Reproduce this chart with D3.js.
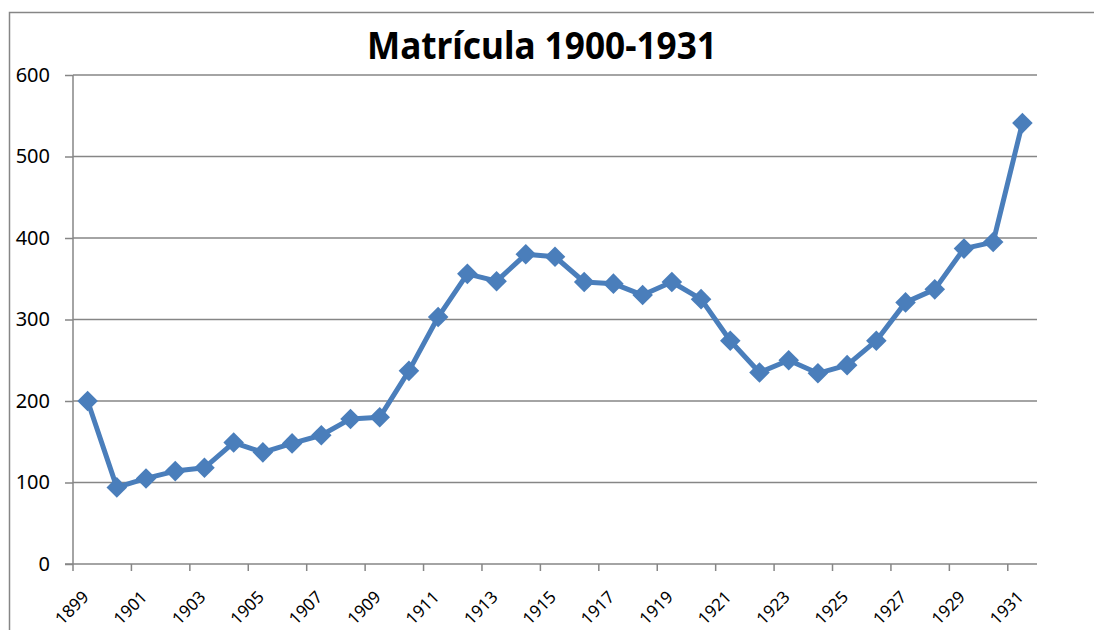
<!DOCTYPE html>
<html>
<head>
<meta charset="utf-8">
<script src="https://cdnjs.cloudflare.com/ajax/libs/d3/7.8.5/d3.min.js"></script>
<style>
  body { margin: 0; background: #fff; }
  svg text { font-family: "Noto Sans", "DejaVu Sans", sans-serif; fill: #000; }
</style>
</head>
<body>
<svg width="1094" height="630"></svg>
<script>
var title = "Matrícula 1900-1931";

var years = [1899, 1900, 1901, 1902, 1903, 1904, 1905, 1906, 1907, 1908, 1909,
  1910, 1911, 1912, 1913, 1914, 1915, 1916, 1917, 1918, 1919, 1920,
  1921, 1922, 1923, 1924, 1925, 1926, 1927, 1928, 1929, 1930, 1931];

var matricula = [200, 94, 105, 114, 118, 149, 137, 148, 158, 178, 180,
  237, 303, 356, 347, 380, 377, 346, 344, 330, 346, 325,
  274, 235, 250, 234, 244, 274, 321, 337, 387, 395, 541];

var yTicks = [0, 100, 200, 300, 400, 500, 600];

var svg = d3.select("svg"),
  margin = {top: 75, right: 57, bottom: 66, left: 73},
  width = svg.attr("width") - margin.left - margin.right,
  height = svg.attr("height") - margin.top - margin.bottom;

var gray = "#868686", blue = "#4a7ebb";

// outer chart frame (right and bottom edges fall outside the picture)
svg.append("rect")
  .attr("x", 9.5).attr("y", 12.5)
  .attr("width", 1200).attr("height", 700)
  .attr("fill", "none").attr("stroke", gray).attr("stroke-width", 1.5);

svg.append("text")
  .attr("x", 542).attr("y", 59)
  .attr("text-anchor", "middle")
  .attr("textLength", 350)
  .attr("lengthAdjust", "spacingAndGlyphs")
  .style("font-size", "38px").style("font-weight", "bold")
  .text(title);

var x = d3.scaleBand().domain(years).range([0, width]).padding(0),
  y = d3.scaleLinear().domain([0, 600]).range([height, 0]);

var g = svg.append("g")
  .attr("transform", "translate(" + margin.left + "," + margin.top + ")");

// gridlines
g.append("g").selectAll("line")
  .data(yTicks.filter(function(d) { return d > 0; }))
  .enter().append("line")
  .attr("x1", 0).attr("x2", width)
  .attr("y1", function(d) { return y(d); })
  .attr("y2", function(d) { return y(d); })
  .attr("stroke", gray).attr("stroke-width", 1.5);

// y axis
var yAxis = g.append("g")
  .call(d3.axisLeft(y).tickValues(yTicks).tickSize(8).tickPadding(15));
yAxis.selectAll("path, line").attr("stroke", gray).attr("stroke-width", 1.5);
yAxis.select(".domain").attr("d", "M0," + height + "V0");
yAxis.selectAll("text")
  .attr("font-family", null).attr("font-size", null)
  .style("font-size", "20px");

// x axis: ticks on category boundaries every second category
var xAxis = g.append("g").attr("transform", "translate(0," + height + ")");
xAxis.append("line")
  .attr("x1", -8).attr("x2", width)
  .attr("stroke", gray).attr("stroke-width", 1.5);
xAxis.selectAll(".tk")
  .data(years.filter(function(d, i) { return i % 2 == 0; }))
  .enter().append("line")
  .attr("class", "tk")
  .attr("x1", function(d) { return x(d); })
  .attr("x2", function(d) { return x(d); })
  .attr("y1", 0).attr("y2", 7)
  .attr("stroke", gray).attr("stroke-width", 1.5);
xAxis.selectAll(".lbl")
  .data(years.filter(function(d, i) { return i % 2 == 0; }))
  .enter().append("text")
  .attr("class", "lbl")
  .attr("text-anchor", "end")
  .attr("transform", function(d) {
    return "translate(" + (x(d) + x.bandwidth() / 2 - 2) + ",30) rotate(-45)";
  })
  .attr("dy", "0.35em")
  .style("font-size", "17px")
  .text(function(d) { return d; });

var pts = years.map(function(d, i) { return {year: d, value: matricula[i]}; });

var line = d3.line()
  .x(function(d) { return x(d.year) + x.bandwidth() / 2; })
  .y(function(d) { return y(d.value); });

g.append("path")
  .datum(pts)
  .attr("fill", "none")
  .attr("stroke", blue)
  .attr("stroke-width", 5)
  .attr("stroke-linejoin", "round")
  .attr("d", line);

g.selectAll(".marker")
  .data(pts)
  .enter().append("path")
  .attr("class", "marker")
  .attr("d", d3.symbol().type(d3.symbolDiamond2).size(270))
  .attr("transform", function(d) {
    return "translate(" + (x(d.year) + x.bandwidth() / 2) + "," + y(d.value) + ")";
  })
  .attr("fill", blue);
</script>
</body>
</html>
